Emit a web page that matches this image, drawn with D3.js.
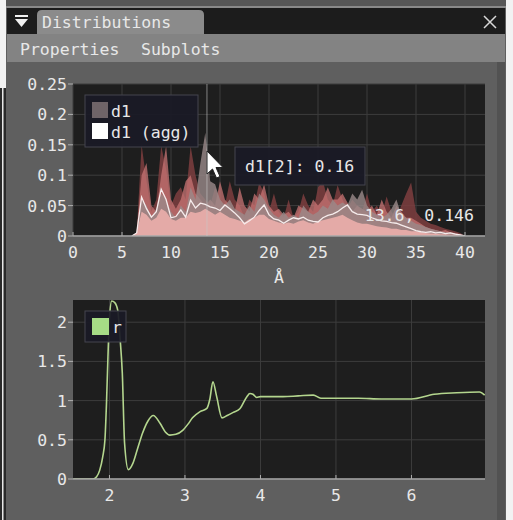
<!DOCTYPE html>
<html>
<head>
<meta charset="utf-8">
<script src="https://cdn.jsdelivr.net/npm/d3@7"></script>
<style>
  html, body { margin: 0; padding: 0; background: #f2f2f2; }
  svg { display: block; }
  text { font-family: "DejaVu Sans Mono", monospace; font-size: 16.5px; fill: #e8e8e8; }
</style>
</head>
<body>
<svg id="chart" width="513" height="520"></svg>
<script>
// ---- data: top plot (distribution members + aggregate) ----
const binsA = [6,6.5,7,7.5,8,8.5,9,9.5,10,10.5,11,11.5,12,12.5,13,13.5,14,14.5,15,15.5,16,16.5,17,17.5,18,18.5,19,19.5,20,20.5,21,21.5,22,22.5,23,23.5,24,24.5,25,25.5,26,26.5,27,27.5,28,28.5,29,29.5,30,30.5,31,31.5,32,32.5,33,33.5,34,34.5,35,35.5,36,36.5,37,37.5,38,38.5,39,39.5,40];
const d1_0 = [0,0.004,0.150,0.090,0.040,0.060,0.148,0.110,0.050,0.070,0.080,0.060,0.148,0.100,0.070,0.060,0.050,0.080,0.060,0.050,0.090,0.060,0.050,0.030,0.060,0.050,0.088,0.070,0.040,0.070,0.040,0.030,0.060,0.030,0.040,0.070,0.050,0.040,0.080,0.090,0.060,0.050,0.084,0.060,0.045,0.060,0.050,0.040,0.070,0.040,0.050,0.035,0.065,0.040,0.030,0.050,0.070,0.088,0.040,0.030,0.025,0.020,0.018,0.015,0.012,0.010,0.008,0.005,0];
const d1_1 = [0,0.006,0.100,0.120,0.050,0.040,0.100,0.148,0.060,0.045,0.060,0.090,0.100,0.070,0.060,0.050,0.060,0.050,0.090,0.060,0.050,0.040,0.080,0.050,0.040,0.070,0.060,0.085,0.050,0.040,0.045,0.035,0.040,0.030,0.050,0.045,0.040,0.060,0.050,0.060,0.080,0.060,0.060,0.070,0.055,0.040,0.050,0.045,0.040,0.050,0.035,0.060,0.040,0.030,0.050,0.040,0.030,0.030,0.025,0.020,0.015,0.012,0.010,0.008,0.010,0.006,0.005,0.003,0];
const d1_2 = [0,0.003,0.060,0.050,0.030,0.045,0.070,0.060,0.040,0.030,0.050,0.040,0.080,0.060,0.120,0.170,0.090,0.085,0.060,0.050,0.060,0.045,0.040,0.035,0.050,0.040,0.070,0.060,0.045,0.035,0.030,0.040,0.030,0.035,0.030,0.050,0.040,0.035,0.040,0.050,0.045,0.060,0.050,0.055,0.050,0.070,0.060,0.076,0.050,0.040,0.035,0.030,0.035,0.045,0.060,0.035,0.030,0.025,0.020,0.018,0.015,0.012,0.010,0.008,0.006,0.005,0.004,0.002,0];
const d1_3 = [0,0.005,0.040,0.035,0.025,0.030,0.045,0.040,0.028,0.025,0.030,0.030,0.040,0.038,0.040,0.045,0.040,0.035,0.040,0.035,0.030,0.028,0.025,0.022,0.028,0.030,0.035,0.035,0.028,0.025,0.022,0.020,0.022,0.020,0.024,0.026,0.022,0.020,0.024,0.026,0.028,0.030,0.032,0.035,0.030,0.026,0.022,0.020,0.020,0.018,0.016,0.015,0.014,0.012,0.012,0.010,0.010,0.008,0.008,0.006,0.005,0.004,0.004,0.003,0.003,0.002,0.002,0.001,0];
const d1_agg = [0,0.005,0.064,0.045,0.031,0.040,0.077,0.060,0.030,0.032,0.043,0.031,0.059,0.046,0.054,0.052,0.048,0.046,0.042,0.051,0.045,0.038,0.030,0.020,0.025,0.031,0.042,0.051,0.035,0.028,0.026,0.021,0.026,0.030,0.028,0.031,0.026,0.024,0.023,0.030,0.034,0.036,0.040,0.046,0.051,0.040,0.036,0.035,0.034,0.030,0.027,0.025,0.024,0.022,0.021,0.018,0.015,0.012,0.009,0.007,0.006,0.007,0.005,0.006,0.004,0.005,0.003,0.002,0];
const topXTicks = [0,5,10,15,20,25,30,35,40];
const topYTicks = [0,0.05,0.1,0.15,0.2,0.25];
const topYLabels = ['0','0.05','0.1','0.15','0.2','0.25'];
const cursorX = 13.67;

// ---- data: bottom plot (r) ----
const rX = [1.52,1.61,1.70,1.78,1.83,1.87,1.91,1.94,1.96,1.98,2.00,2.03,2.07,2.11,2.14,2.17,2.20,2.25,2.31,2.37,2.44,2.51,2.58,2.67,2.74,2.80,2.88,2.97,3.04,3.10,3.20,3.29,3.33,3.37,3.42,3.49,3.56,3.64,3.73,3.82,3.86,3.90,3.95,4.00,4.10,4.30,4.50,4.70,4.80,5.00,5.30,5.60,6.00,6.30,6.60,6.90,6.97];
const rY = [0,0,0,0,0.03,0.11,0.28,0.5,0.95,1.56,2.05,2.27,2.25,2.15,1.8,1.35,0.46,0.12,0.2,0.38,0.59,0.74,0.81,0.71,0.6,0.56,0.57,0.62,0.7,0.78,0.86,0.9,1.02,1.24,1.05,0.78,0.81,0.85,0.9,1.05,1.09,1.08,1.04,1.05,1.05,1.05,1.06,1.07,1.03,1.03,1.03,1.02,1.02,1.08,1.1,1.11,1.07];
const botXTicks = [2,3,4,5,6];
const botYTicks = [0,0.5,1,1.5,2];

const svg = d3.select('#chart');

// ---- window chrome ----
svg.append('rect').attr('x', 6).attr('y', 0).attr('width', 500).attr('height', 520).attr('fill', '#5f5f5f');
svg.append('rect').attr('x', 6).attr('y', 0).attr('width', 500).attr('height', 6).attr('fill', '#575757');
svg.append('rect').attr('x', 6).attr('y', 6).attr('width', 500).attr('height', 2).attr('fill', '#8a8a8a');
svg.append('rect').attr('x', 7).attr('y', 8).attr('width', 498).attr('height', 26).attr('fill', '#1c1c1c');
svg.append('path')
    .attr('d', 'M37,34 L37,15 Q37,10 42,10 L199,10 Q204,10 204,15 L204,34 Z')
    .attr('fill', '#8b8b8b');
svg.append('text').attr('x', 42).attr('y', 28).text('Distributions');
svg.append('rect').attr('x', 15).attr('y', 15).attr('width', 13).attr('height', 2).attr('fill', '#f0f0f0');
svg.append('path').attr('d', 'M15,19 L28,19 L21.5,27 Z').attr('fill', '#f0f0f0');
svg.append('path').attr('d', 'M484,16 L496,28 M496,16 L484,28').attr('stroke', '#d8d8d8').attr('stroke-width', 1.5);
svg.append('rect').attr('x', 7).attr('y', 34).attr('width', 498).attr('height', 28).attr('fill', '#838383');
svg.append('text').attr('x', 20).attr('y', 55).text('Properties');
svg.append('text').attr('x', 141).attr('y', 55).text('Subplots');
svg.append('rect').attr('x', 497).attr('y', 62).attr('width', 8).attr('height', 458).attr('fill', '#525252');
svg.append('rect').attr('x', 0).attr('y', 88).attr('width', 6).attr('height', 432).attr('fill', '#2a2a2a');
svg.append('rect').attr('x', 2).attr('y', 88).attr('width', 1.5).attr('height', 432).attr('fill', '#e8e8e8');

// ---- shared axis drawing ----
function drawFrame(x, y, xTicks, yTicks, yLabels) {
    const [x0, x1] = x.range();
    const [yb, yt] = y.range();
    svg.append('rect').attr('x', x0).attr('y', yt).attr('width', x1 - x0).attr('height', yb - yt).attr('fill', '#1e1e1e');
    const g = svg.append('g');
    g.selectAll('.vg').data(xTicks).enter().append('line')
        .attr('x1', d => x(d)).attr('x2', d => x(d)).attr('y1', yt).attr('y2', yb)
        .attr('stroke', '#3d3d3d').attr('stroke-width', 1);
    g.selectAll('.hg').data(yTicks).enter().append('line')
        .attr('x1', x0).attr('x2', x1).attr('y1', d => y(d)).attr('y2', d => y(d))
        .attr('stroke', '#3d3d3d').attr('stroke-width', 1);
    g.selectAll('.yt').data(yTicks).enter().append('line')
        .attr('x1', x0 - 5).attr('x2', x0).attr('y1', d => y(d)).attr('y2', d => y(d))
        .attr('stroke', '#b0b0b0');
    g.selectAll('.xt').data(xTicks).enter().append('line')
        .attr('x1', d => x(d)).attr('x2', d => x(d)).attr('y1', yb - 4).attr('y2', yb)
        .attr('stroke', '#b0b0b0');
    g.selectAll('.yl').data(yTicks).enter().append('text')
        .attr('x', x0 - 6).attr('y', d => y(d) + 6)
        .attr('text-anchor', 'end')
        .text((d, i) => yLabels ? yLabels[i] : d);
    g.selectAll('.xl').data(xTicks).enter().append('text')
        .attr('x', d => x(d)).attr('y', yb + 22)
        .attr('text-anchor', 'middle')
        .text(d => d);
    return g;
}

function drawAxisLine(x, y) {
    const [x0, x1] = x.range();
    const [yb] = y.range();
    svg.append('line').attr('x1', x0).attr('x2', x1).attr('y1', yb).attr('y2', yb)
        .attr('stroke', '#a8a8a8').attr('stroke-width', 1.5);
}

// ---- top plot ----
const xTop = d3.scaleLinear().domain([0, 42.04]).range([73, 485]);
const yTop = d3.scaleLinear().domain([0, 0.25]).range([236, 84]);
drawFrame(xTop, yTop, topXTicks, topYTicks, topYLabels);

const clipTop = svg.append('clipPath').attr('id', 'clipTop')
    .append('rect').attr('x', 73).attr('y', 84).attr('width', 412).attr('height', 152);

const members = [
    { values: d1_0, color: '#7e3e40', opacity: 0.85 },
    { values: d1_1, color: '#c87474', opacity: 0.75 },
    { values: d1_2, color: '#9a8a8a', opacity: 0.8 },
    { values: d1_3, color: '#f0b2ae', opacity: 0.85 }
];
const area = d3.area()
    .x((d, i) => xTop(binsA[i]))
    .y0(yTop(0))
    .y1(d => yTop(d));
const plotTop = svg.append('g').attr('clip-path', 'url(#clipTop)');
members.forEach(m => {
    plotTop.append('path').datum(m.values)
        .attr('d', area)
        .attr('fill', m.color)
        .attr('fill-opacity', m.opacity);
});
plotTop.append('path').datum(d1_agg)
    .attr('d', d3.line().x((d, i) => xTop(binsA[i])).y(d => yTop(d)))
    .attr('fill', 'none')
    .attr('stroke', '#f6ecec')
    .attr('stroke-width', 1.3);
drawAxisLine(xTop, yTop);

// cursor line
svg.append('line')
    .attr('x1', xTop(cursorX)).attr('x2', xTop(cursorX))
    .attr('y1', 84).attr('y2', 236)
    .attr('stroke', '#c8c8c8').attr('stroke-opacity', 0.6);

svg.append('text').attr('x', 474).attr('y', 221).attr('text-anchor', 'end').text('13.6, 0.146');

// legend top
svg.append('rect').attr('x', 85).attr('y', 95).attr('width', 113).attr('height', 52)
    .attr('fill', '#1a1a26').attr('fill-opacity', 0.93).attr('stroke', '#44444f');
svg.append('rect').attr('x', 92).attr('y', 102).attr('width', 16).attr('height', 16).attr('fill', '#6f6468');
svg.append('text').attr('x', 111).attr('y', 117).text('d1');
svg.append('rect').attr('x', 92).attr('y', 123).attr('width', 16).attr('height', 16).attr('fill', '#ffffff');
svg.append('text').attr('x', 111).attr('y', 138).text('d1 (agg)');

// tooltip
svg.append('rect').attr('x', 235).attr('y', 147).attr('width', 130).attr('height', 38)
    .attr('fill', '#1a1a26').attr('fill-opacity', 0.95).attr('stroke', '#44444f');
svg.append('text').attr('x', 245).attr('y', 172).text('d1[2]: 0.16');

// mouse pointer
svg.append('path')
    .attr('d', 'M0,0 L0,23 L5.5,18 L9.5,27 L13,25.5 L9,16.5 L16,16.5 Z')
    .attr('transform', 'translate(207,151)')
    .attr('fill', '#ffffff').attr('stroke', '#222').attr('stroke-width', 1);

svg.append('text').attr('x', 279).attr('y', 283).attr('text-anchor', 'middle').text('Å');

// ---- bottom plot ----
const xBot = d3.scaleLinear().domain([1.517, 6.974]).range([73, 485]);
const yBot = d3.scaleLinear().domain([0, 2.283]).range([479, 300]);
drawFrame(xBot, yBot, botXTicks, botYTicks, null);

svg.append('clipPath').attr('id', 'clipBot')
    .append('rect').attr('x', 73).attr('y', 300).attr('width', 412).attr('height', 179);
svg.append('g').attr('clip-path', 'url(#clipBot)')
    .append('path').datum(rY)
    .attr('d', d3.line().curve(d3.curveMonotoneX).x((d, i) => xBot(rX[i])).y(d => yBot(d)))
    .attr('fill', 'none')
    .attr('stroke', '#b4d68e')
    .attr('stroke-width', 1.6);
drawAxisLine(xBot, yBot);

svg.append('rect').attr('x', 85).attr('y', 311).attr('width', 41).attr('height', 31)
    .attr('fill', '#1a1a26').attr('fill-opacity', 0.93).attr('stroke', '#44444f');
svg.append('rect').attr('x', 92).attr('y', 318).attr('width', 17).attr('height', 17).attr('fill', '#a6dc86');
svg.append('text').attr('x', 112).attr('y', 333).text('r');
</script>
</body>
</html>
